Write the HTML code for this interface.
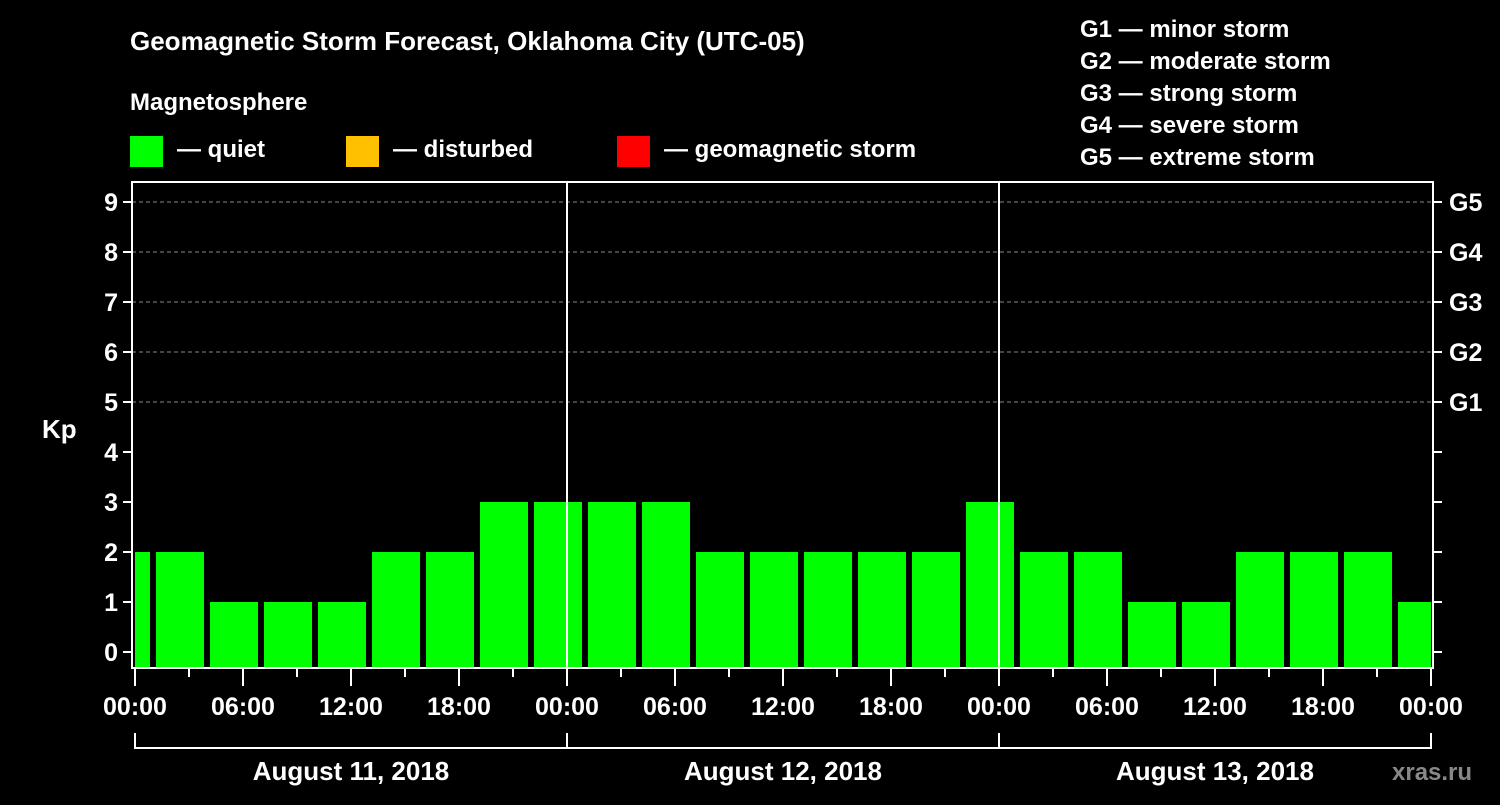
<!DOCTYPE html>
<html><head><meta charset="utf-8"><style>
body{margin:0;background:#000;width:1500px;height:800px;overflow:hidden}
svg text{font-family:"Liberation Sans",Arial,sans-serif;font-weight:bold;fill:#fff}
</style></head><body>
<svg id="chart" width="1500" height="800" xmlns="http://www.w3.org/2000/svg">
<rect width="1500" height="800" fill="#000"/>
<text x="130" y="50" font-size="26">Geomagnetic Storm Forecast, Oklahoma City (UTC-05)</text>
<text x="130" y="110" font-size="24">Magnetosphere</text>
<rect x="130" y="136" width="33" height="31" fill="#00ff00"/>
<text x="177" y="157" font-size="24">— quiet</text>
<rect x="346" y="136" width="33" height="31" fill="#ffc000"/>
<text x="393" y="157" font-size="24">— disturbed</text>
<rect x="617" y="136" width="33" height="31" fill="#ff0000"/>
<text x="664" y="157" font-size="24">— geomagnetic storm</text>
<g font-size="24">
<text x="1080" y="37">G1 — minor storm</text>
<text x="1080" y="69">G2 — moderate storm</text>
<text x="1080" y="101">G3 — strong storm</text>
<text x="1080" y="133">G4 — severe storm</text>
<text x="1080" y="165">G5 — extreme storm</text>
</g>
<text x="42" y="438" font-size="26">Kp</text>
<text x="1392" y="780" font-size="24" style="fill:#888">xras.ru</text>
<g id="grid"></g><g id="bars"></g><g id="axes"></g>
</svg>
<script>
const kpValues=[2,2,1,1,1,2,2,3,3,3,3,2,2,2,2,2,3,2,2,1,1,2,2,2,1];
const barStartHours=[-2,1,4,7,10,13,16,19,22,25,28,31,34,37,40,43,46,49,52,55,58,61,64,67,70];
const yTicks=[0,1,2,3,4,5,6,7,8,9];
const gLabels=["G1","G2","G3","G4","G5"];
const xTickLabels=["00:00","06:00","12:00","18:00"];
const dayLabels=["August 11, 2018","August 12, 2018","August 13, 2018"];
const NS="http://www.w3.org/2000/svg";
const X0=135,HPX=18,Y0=652,KPX=50,LEFT=132,RIGHT=1433,TOP=182,BOT=668,H=72;
const x=h=>X0+Math.max(0,Math.min(H,h))*HPX;
const y=v=>Y0-v*KPX;
function mk(p,t,a){const e=document.createElementNS(NS,t);for(const k in a)e.setAttribute(k,a[k]);p.appendChild(e);return e;}
const grid=document.getElementById('grid'),bars=document.getElementById('bars'),axes=document.getElementById('axes');
for(let g=5;g<=9;g++){const l=mk(grid,'line',{x1:LEFT,x2:RIGHT,y1:y(g),y2:y(g),stroke:'#888','stroke-dasharray':'4,3','stroke-width':1});

}
kpValues.forEach((v,i)=>{const s=barStartHours[i];let x1=x(s),x2=x(s+3);
if(s>=0)x1+=3;if(s+3<=H)x2-=3;
const r=mk(bars,'rect',{x:x1,y:y(v),width:Math.max(0,x2-x1),height:BOT-1-y(v),fill:'#00ff00'});

});
const fr=mk(axes,'rect',{x:LEFT,y:TOP,width:RIGHT-LEFT,height:BOT-TOP,fill:'none',stroke:'#fff','stroke-width':2});


[24,48].forEach(h=>{const l=mk(axes,'line',{x1:x(h),x2:x(h),y1:TOP,y2:BOT,stroke:'#fff','stroke-width':2});

});
yTicks.forEach(v=>{mk(axes,'line',{x1:LEFT-9,x2:LEFT,y1:y(v),y2:y(v),stroke:'#fff','stroke-width':2});
mk(axes,'line',{x1:RIGHT,x2:RIGHT+9,y1:y(v),y2:y(v),stroke:'#fff','stroke-width':2});
const t=mk(axes,'text',{x:LEFT-14,y:y(v)+9,'font-size':25,'text-anchor':'end'});t.textContent=v;

});
gLabels.forEach((g,i)=>{const t=mk(axes,'text',{x:1449,y:y(i+5)+9,'font-size':25});t.textContent=g;

});
for(let h=0;h<=H;h+=3){const major=h%6===0;
mk(axes,'line',{x1:x(h),x2:x(h),y1:BOT,y2:BOT+(major?18:9),stroke:'#fff','stroke-width':2});
if(major){const t=mk(axes,'text',{x:x(h),y:715,'font-size':25,'text-anchor':'middle'});t.textContent=xTickLabels[(h%24)/6];

}}
dayLabels.forEach((d,i)=>{const a=x(i*24),b=x(i*24+24);
mk(axes,'line',{x1:a,x2:b,y1:748,y2:748,stroke:'#fff','stroke-width':2});
mk(axes,'line',{x1:a,x2:a,y1:733,y2:749,stroke:'#fff','stroke-width':2});
mk(axes,'line',{x1:b,x2:b,y1:733,y2:749,stroke:'#fff','stroke-width':2});
const t=mk(axes,'text',{x:(a+b)/2,y:780,'font-size':26,'text-anchor':'middle'});t.textContent=d;

});
</script>
</body></html>
